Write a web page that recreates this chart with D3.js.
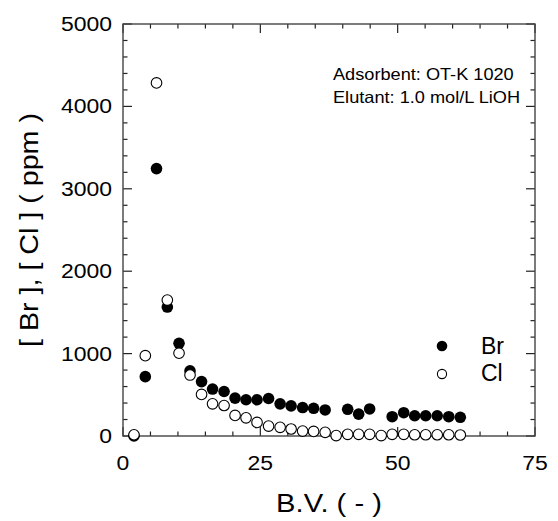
<!DOCTYPE html>
<html><head><meta charset="utf-8">
<script src="https://cdn.jsdelivr.net/npm/d3@7"></script>
<style>body{margin:0;background:#fff}svg{display:block}</style>
</head><body>
<script>
// Data
const bvCl = [2.0,4.06,6.1,8.07,10.2,12.2,14.3,16.3,18.4,20.4,22.4,24.4,26.5,28.6,30.6,32.7,34.7,36.8,38.8,40.9,42.9,44.9,47.0,49.0,51.1,53.1,55.1,57.2,59.3,61.4];
const clValues = [15,975,4285,1650,1005,740,505,390,370,250,220,165,120,105,85,60,55,45,5,20,20,20,5,20,20,15,15,15,15,12];
const bvBr = [2.0,4.06,6.1,8.07,10.2,12.2,14.3,16.3,18.4,20.4,22.4,24.4,26.5,28.6,30.6,32.7,34.7,36.8,40.9,42.9,44.9,49.0,51.1,53.1,55.1,57.2,59.3,61.4];
const brValues = [0,720,3245,1565,1125,790,660,570,540,460,440,440,455,390,365,345,336,316,324,265,328,234,283,246,246,246,234,227];
const xTicks = [0,25,50,75];
const yTicks = [0,1000,2000,3000,4000,5000];
const seriesNames = ["Br","Cl"];
const notes = ["Adsorbent: OT-K 1020","Elutant: 1.0 mol/L LiOH"];

const W=558,H=521;
const FONT="'Liberation Sans', Arial, Helvetica, sans-serif";
const svg=d3.select("body").append("svg").attr("width",W).attr("height",H);
const L=123,R=535,T=24,B=436;
const x=d3.scaleLinear().domain([0,75]).range([L,R]);
const y=d3.scaleLinear().domain([0,5000]).range([B,T]);

function txt(px,py,s,size,anchor,sx,rot){
  const g=svg.append("g").attr("transform",`translate(${px},${py})`+(rot?` rotate(${rot})`:"")+` scale(${sx},1)`);
  g.append("text").attr("x",0).attr("y",0).attr("text-anchor",anchor)
   .attr("font-family",FONT).attr("font-size",size).attr("fill","#000").text(s);
}

// ticks (inward, all four sides)
const tk=svg.append("g").attr("stroke","#222").attr("stroke-width",1.2);
const xMinor=d3.range(0,76,5), yMinor=d3.range(0,5001,200);
xMinor.forEach(v=>{
  const len = v%25===0?9:4.5;
  tk.append("line").attr("x1",x(v)).attr("x2",x(v)).attr("y1",B).attr("y2",B-len);
  tk.append("line").attr("x1",x(v)).attr("x2",x(v)).attr("y1",T).attr("y2",T+len);
});
yMinor.forEach(v=>{
  const len = v%1000===0?9:4.5;
  tk.append("line").attr("y1",y(v)).attr("y2",y(v)).attr("x1",L).attr("x2",L+len);
  tk.append("line").attr("y1",y(v)).attr("y2",y(v)).attr("x1",R).attr("x2",R-len);
});
// frame
svg.append("rect").attr("x",L).attr("y",T).attr("width",R-L).attr("height",B-T)
  .attr("fill","none").attr("stroke","#444").attr("stroke-width",1.4);

// tick labels
xTicks.forEach(v=>txt(x(v),470,String(v),20.5,"middle",1.12));
yTicks.forEach(v=>txt(112,y(v)+7,String(v),20.5,"end",1.12));

// axis titles
txt((L+R)/2,512,"B.V. ( - )",26.5,"middle",1.1);
txt(38,(T+B)/2,"[ Br ], [ Cl ] ( ppm )",25.6,"middle",1.12,-90);

// annotation
txt(333,80,notes[0],16.3,"start",1.115);
txt(333,103.3,notes[1],16.3,"start",1.115);

// data
const br=bvBr.map((v,i)=>({x:v,y:brValues[i]}));
const cl=bvCl.map((v,i)=>({x:v,y:clValues[i]}));
svg.append("g").selectAll("circle").data(br).join("circle")
  .attr("cx",d=>x(d.x)).attr("cy",d=>y(d.y)).attr("r",5.8).attr("fill","#000");
svg.append("g").selectAll("circle").data(cl).join("circle")
  .attr("cx",d=>x(d.x)).attr("cy",d=>y(d.y)).attr("r",5.3)
  .attr("fill","#fff").attr("stroke","#000").attr("stroke-width",1.1);

// legend
svg.append("circle").attr("cx",442).attr("cy",346).attr("r",5.3).attr("fill","#000");
svg.append("circle").attr("cx",442).attr("cy",374).attr("r",4.6).attr("fill","#fff").attr("stroke","#000").attr("stroke-width",1.1);
txt(481,354,seriesNames[0],23,"start",1);
txt(481,381,seriesNames[1],23,"start",1);
</script>
</body></html>
